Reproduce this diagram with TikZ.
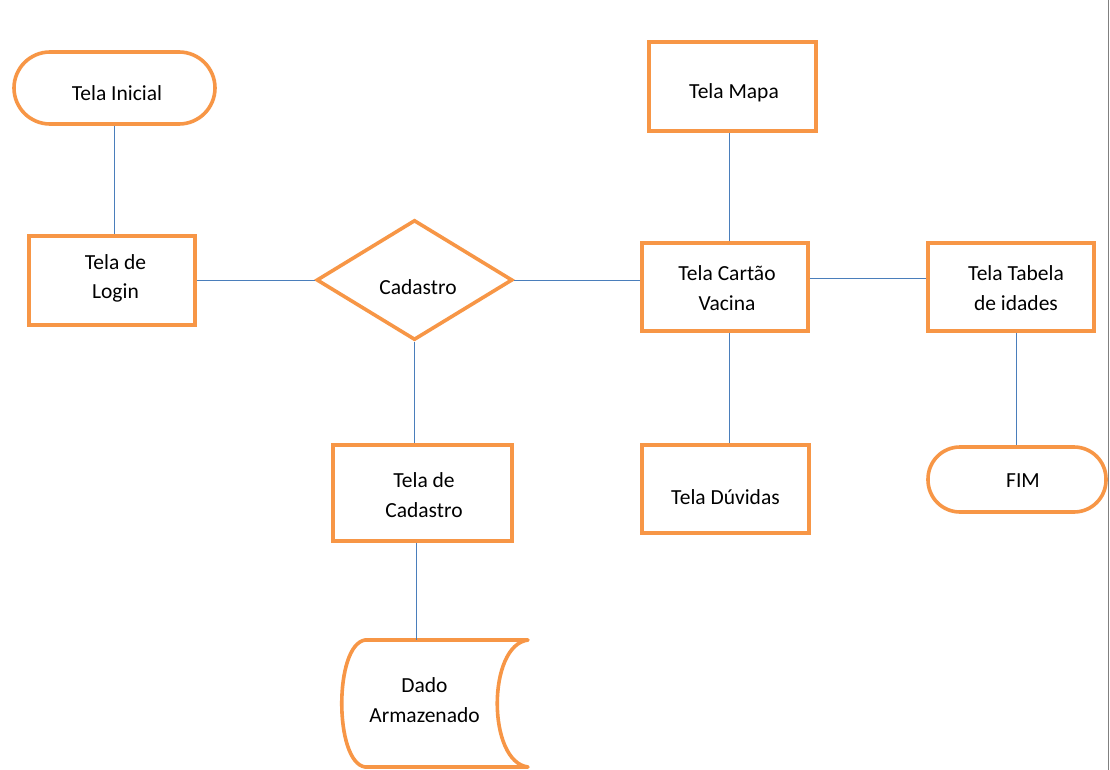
\documentclass[tikz,border=0pt]{standalone}
\usepackage{fontspec}
\setmainfont{Carlito}
\usetikzlibrary{shapes.geometric}
\definecolor{boxorange}{HTML}{F79646}
\definecolor{linkblue}{HTML}{4A7EBB}
\tikzset{
  box/.style={draw=boxorange, line width=3.6pt, fill=white, rectangle, inner sep=0pt},
  term/.style={box, rounded corners=#1},
  decision/.style={draw=boxorange, line width=3.6pt, fill=white, diamond, aspect=1.64, inner sep=0pt, minimum width=196pt, minimum height=120pt},
  link/.style={draw=linkblue, line width=0.9pt},
  txt/.style={align=center, inner sep=0pt, font=\fontsize{21.5}{29.5}\selectfont}
}
\begin{document}
\begin{tikzpicture}[x=1pt,y=-1pt]
\useasboundingbox (0,0) rectangle (1110,770);
\fill[white] (0,0) rectangle (1110,770);
% shapes
\node[term=36pt, minimum width=201pt, minimum height=72pt] (ini) at (114.5,88) {};
\node[box, minimum width=166pt, minimum height=89pt] (login) at (112,280.5) {};
\node[decision] (dia) at (414.5,280) {};
\node[box, minimum width=179pt, minimum height=96pt] (cad) at (422.5,493) {};
\node[box, minimum width=167pt, minimum height=89pt] (mapa) at (732.5,86.5) {};
\node[box, minimum width=166pt, minimum height=88pt] (cartao) at (725,287) {};
\node[box, minimum width=167pt, minimum height=88pt] (duv) at (725.5,489) {};
\node[box, minimum width=166pt, minimum height=88pt] (tab) at (1011,287) {};
\node[term=32pt, minimum width=178pt, minimum height=65pt] (fim) at (1017,479.5) {};
% stored data
\coordinate (storeTop) at (416,640);
\draw[draw=boxorange, line width=3.6pt, fill=white, line join=round]
  (365,640) -- (528,640) .. controls (487,645) and (487,762) .. (528,767)
  -- (365,767) .. controls (334,762) and (334,645) .. (365,640) -- cycle;
% texts
\node[txt] (iniT) at (117,93) {Tela Inicial};
\node[txt] (loginT) at (115.5,278.5) {Tela de\\Login};
\node[txt] (diaT) at (418,287) {Cadastro};
\node[txt] (cadT) at (424,495) {Tela de\\Cadastro};
\node[txt] (storeT) at (424.5,700) {Dado\\Armazenado};
\node[txt] (mapaT) at (734,93) {Tela Mapa};
\node[txt] (cartaoT) at (727,288) {Tela Cartão\\Vacina};
\node[txt] (duvT) at (725.5,497) {Tela Dúvidas};
\node[txt] (tabT) at (1016,288) {Tela Tabela\\de idades};
\node[txt] (fimT) at (1023,481) {FIM};
% connectors
\draw[link] (ini.south) -- (ini.south |- login.north);
\draw[link] (login.east |- dia.west) -- (dia.west);
\draw[link] (dia.east) -- (dia.east -| cartao.west);
\draw[link] (dia.south) -- (dia.south |- cad.north);
\draw[link] (storeTop |- cad.south) -- (storeTop);
\draw[link] (cartao.north -| 729,0) -- (mapa.south -| 729,0);
\draw[link] (cartao.south -| 729,0) -- (duv.north -| 729,0);
\draw[link] (cartao.east |- 0,278) -- (tab.west |- 0,278);
\draw[link] (tab.south -| 1016,0) -- (fim.north -| 1016,0);
% page edge
\coordinate (edgeTop) at (1108.5,0);
\coordinate (edgeBot) at (1108.5,770);
\draw[gray, line width=1pt] (edgeTop) -- (edgeBot);
\end{tikzpicture}
\end{document}
